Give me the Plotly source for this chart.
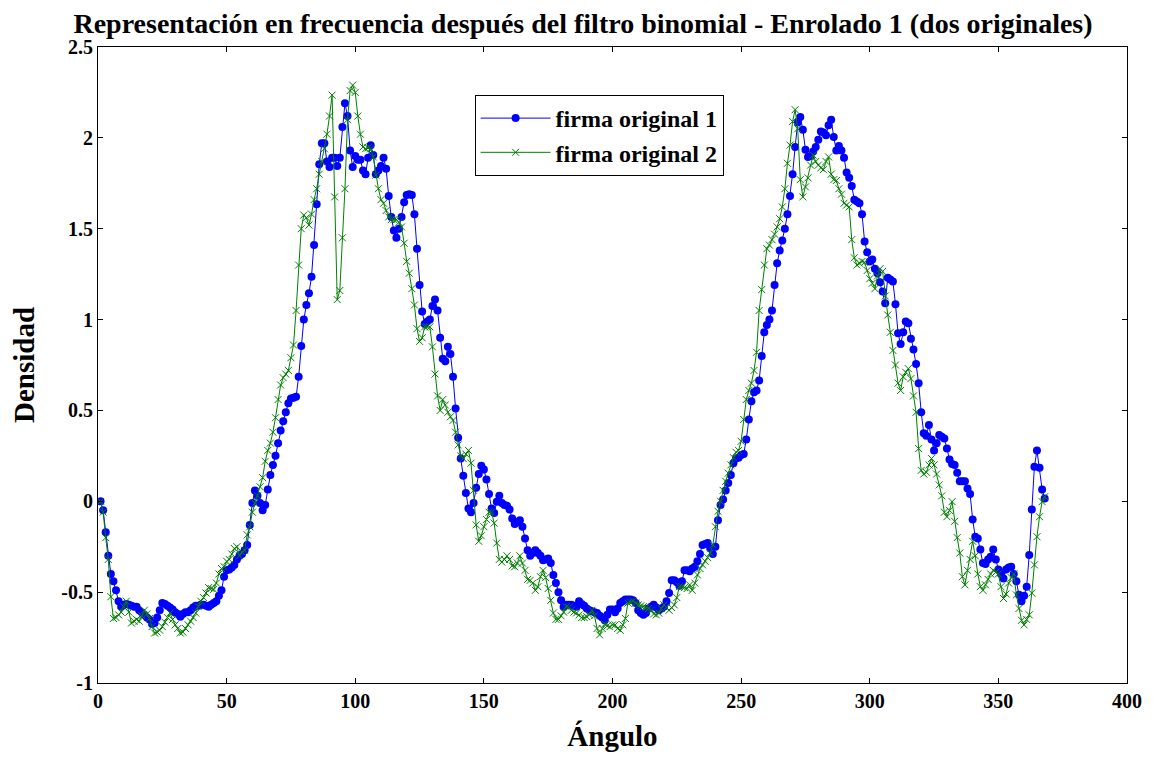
import plotly.graph_objects as go

angles = list(range(1, 369))

firma1 = [
    0.0, -0.05, -0.17, -0.30, -0.40, -0.44, -0.49, -0.55, -0.58, -0.57,
    -0.565, -0.57, -0.575, -0.58, -0.58, -0.60, -0.61, -0.625, -0.64, -0.65,
    -0.675, -0.67, -0.64, -0.60, -0.56, -0.565, -0.575, -0.585, -0.595, -0.61,
    -0.62, -0.635, -0.62, -0.61, -0.61, -0.60, -0.585, -0.575, -0.575, -0.57,
    -0.57, -0.575, -0.58, -0.57, -0.56, -0.55, -0.52, -0.49, -0.415, -0.38,
    -0.375, -0.365, -0.35, -0.32, -0.30, -0.29, -0.27, -0.24, -0.13, -0.01,
    0.06, 0.03, -0.01, -0.05, -0.02, 0.065, 0.145, 0.20, 0.25, 0.32,
    0.39, 0.44, 0.49, 0.54, 0.565, 0.57, 0.575, 0.685, 0.855, 1.0,
    1.08, 1.145, 1.235, 1.41, 1.635, 1.855, 1.97, 1.97, 1.87, 1.84,
    1.89, 1.89, 1.845, 1.89, 2.06, 2.19, 2.12, 1.93, 1.84, 1.90,
    1.88, 1.88, 1.82, 1.80, 1.89, 1.96, 1.905, 1.80, 1.82, 1.845,
    1.89, 1.83, 1.68, 1.565, 1.49, 1.45, 1.50, 1.565, 1.645, 1.685,
    1.69, 1.685, 1.58, 1.39, 1.19, 1.045, 0.975, 0.99, 1.0, 1.075,
    1.11, 1.05, 0.90, 0.785, 0.77, 0.85, 0.81, 0.685, 0.51, 0.35,
    0.235, 0.14, 0.045, -0.04, -0.06, -0.01, 0.075, 0.15, 0.195, 0.175,
    0.12, 0.04, -0.04, -0.065, -0.002, 0.03, -0.01, -0.02, -0.025, -0.045,
    -0.095, -0.125, -0.115, -0.105, -0.14, -0.205, -0.27, -0.30, -0.285, -0.27,
    -0.285, -0.30, -0.325, -0.32, -0.315, -0.34, -0.405, -0.45, -0.50, -0.545,
    -0.58, -0.57, -0.57, -0.57, -0.575, -0.58, -0.55, -0.565, -0.575, -0.59,
    -0.60, -0.605, -0.61, -0.615, -0.63, -0.64, -0.655, -0.625, -0.595, -0.595,
    -0.61, -0.59, -0.56, -0.55, -0.54, -0.54, -0.54, -0.545, -0.56, -0.60,
    -0.615, -0.625, -0.615, -0.59, -0.58, -0.57, -0.585, -0.60, -0.59, -0.58,
    -0.55, -0.505, -0.435, -0.435, -0.445, -0.465, -0.44, -0.38, -0.38, -0.385,
    -0.37, -0.36, -0.33, -0.29, -0.24, -0.235, -0.23, -0.26, -0.29, -0.25,
    -0.105, -0.02, 0.01, 0.06, 0.10, 0.145, 0.21, 0.235, 0.24, 0.255,
    0.26, 0.34, 0.45, 0.55, 0.60, 0.61, 0.665, 0.80, 0.93, 0.97,
    1.0, 1.05, 1.19, 1.31, 1.38, 1.435, 1.50, 1.58, 1.68, 1.80,
    1.95, 2.085, 2.115, 2.045, 1.935, 1.895, 1.90, 1.925, 1.95, 1.99,
    2.035, 2.03, 2.015, 2.07, 2.10, 2.005, 1.93, 1.955, 1.93, 1.89,
    1.81, 1.78, 1.735, 1.66, 1.65, 1.64, 1.58, 1.43, 1.37, 1.32,
    1.33, 1.28, 1.255, 1.205, 1.155, 1.09, 1.23, 1.22, 1.21, 1.085,
    0.925, 0.865, 0.93, 0.99, 0.98, 0.895, 0.835, 0.755, 0.65, 0.49,
    0.375, 0.36, 0.42, 0.34, 0.28, 0.32, 0.365, 0.355, 0.345, 0.29,
    0.23, 0.205, 0.20, 0.157, 0.11, 0.11, 0.11, 0.07, 0.04, -0.10,
    -0.195, -0.205, -0.265, -0.34, -0.345, -0.32, -0.305, -0.265, -0.32, -0.375,
    -0.40, -0.425, -0.375, -0.365, -0.36, -0.40, -0.44, -0.515, -0.55, -0.52,
    -0.47, -0.295, -0.045, 0.19, 0.28, 0.185, 0.065, 0.015,
]

firma2 = [
    0.0, -0.06, -0.20, -0.32, -0.525, -0.645, -0.64, -0.625, -0.61, -0.58,
    -0.55, -0.61, -0.67, -0.66, -0.65, -0.66, -0.63, -0.60, -0.62, -0.645,
    -0.69, -0.725, -0.72, -0.71, -0.69, -0.665, -0.64, -0.615, -0.65, -0.68,
    -0.70, -0.725, -0.72, -0.70, -0.68, -0.66, -0.64, -0.615, -0.58, -0.55,
    -0.53, -0.505, -0.475, -0.48, -0.485, -0.45, -0.40, -0.37, -0.36, -0.33,
    -0.32, -0.29, -0.26, -0.25, -0.30, -0.28, -0.27, -0.185, -0.14, -0.06,
    -0.01, 0.03, 0.08, 0.13, 0.22, 0.28, 0.32, 0.38, 0.46, 0.56,
    0.64, 0.68, 0.70, 0.72, 0.79, 0.86, 1.05, 1.30, 1.50, 1.575,
    1.56, 1.52, 1.58, 1.66, 1.72, 1.80, 1.87, 1.94, 2.02, 2.12,
    2.235, 1.675, 1.11, 1.16, 1.45, 1.72, 2.10, 2.26, 2.29, 2.25,
    2.12, 2.02, 1.95, 1.94, 1.945, 1.94, 1.895, 1.795, 1.72, 1.66,
    1.64, 1.60, 1.565, 1.55, 1.55, 1.55, 1.535, 1.51, 1.42, 1.32,
    1.255, 1.17, 1.08, 0.95, 0.88, 0.90, 0.96, 0.96, 0.96, 0.85,
    0.70, 0.58, 0.50, 0.56, 0.53, 0.49, 0.465, 0.445, 0.38, 0.31,
    0.25, 0.235, 0.26, 0.28, 0.21, 0.06, -0.13, -0.22, -0.19, -0.14,
    -0.10, -0.06, -0.06, -0.12, -0.23, -0.32, -0.335, -0.32, -0.30, -0.32,
    -0.355, -0.36, -0.34, -0.30, -0.34, -0.38, -0.43, -0.435, -0.45, -0.49,
    -0.47, -0.415, -0.38, -0.42, -0.48, -0.545, -0.615, -0.65, -0.65, -0.63,
    -0.61, -0.58, -0.585, -0.60, -0.61, -0.615, -0.625, -0.64, -0.64, -0.635,
    -0.625, -0.60, -0.63, -0.70, -0.735, -0.70, -0.675, -0.685, -0.69, -0.68,
    -0.68, -0.70, -0.71, -0.68, -0.645, -0.56, -0.555, -0.55, -0.56, -0.57,
    -0.575, -0.58, -0.585, -0.59, -0.60, -0.62, -0.625, -0.615, -0.59, -0.57,
    -0.585, -0.60, -0.585, -0.57, -0.53, -0.47, -0.47, -0.475, -0.48, -0.46,
    -0.49, -0.45, -0.405, -0.37, -0.35, -0.33, -0.31, -0.285, -0.24, -0.14,
    -0.055, 0.0, 0.06, 0.11, 0.155, 0.20, 0.24, 0.27, 0.28, 0.33,
    0.45, 0.56, 0.61, 0.65, 0.72, 0.82, 1.05, 1.165, 1.30, 1.39,
    1.41, 1.44, 1.47, 1.51, 1.555, 1.62, 1.72, 1.86, 1.96, 2.09,
    2.155, 2.05, 1.77, 1.675, 1.73, 1.78, 1.85, 1.905, 1.87, 1.85,
    1.835, 1.825, 1.87, 1.895, 1.80, 1.77, 1.765, 1.72, 1.69, 1.64,
    1.63, 1.62, 1.44, 1.34, 1.30, 1.31, 1.32, 1.315, 1.27, 1.225,
    1.20, 1.17, 1.24, 1.28, 1.265, 1.13, 1.025, 0.93, 0.83, 0.75,
    0.65, 0.61, 0.685, 0.71, 0.73, 0.675, 0.58, 0.49, 0.29, 0.17,
    0.15, 0.16, 0.20, 0.235, 0.20, 0.15, 0.09, 0.03, -0.06, -0.085,
    -0.05, -0.002, -0.11, -0.20, -0.285, -0.415, -0.46, -0.38, -0.32, -0.22,
    -0.30, -0.40, -0.47, -0.49, -0.46, -0.43, -0.40, -0.38, -0.39, -0.40,
    -0.47, -0.535, -0.51, -0.45, -0.42, -0.40, -0.515, -0.59, -0.655, -0.68,
    -0.65, -0.625, -0.505, -0.35, -0.195, -0.085, -0.002, 0.025,
]

x_ticks = [0, 50, 100, 150, 200, 250, 300, 350, 400]
y_ticks = [-1, -0.5, 0, 0.5, 1, 1.5, 2, 2.5]
y_tick_labels = ["-1", "-0.5", "0", "0.5", "1", "1.5", "2", "2.5"]

FONT = "Liberation Serif"
tickfont = dict(family=FONT, size=20, color="black", weight="bold")

fig = go.Figure()
fig.add_trace(go.Scatter(
    x=angles, y=firma1, mode="lines+markers", name="firma original 1",
    line=dict(color="#0000FF", width=1),
    marker=dict(symbol="circle", size=8, color="#0000FF"),
))
fig.add_trace(go.Scatter(
    x=angles, y=firma2, mode="lines+markers", name="firma original 2",
    line=dict(color="#008000", width=1),
    marker=dict(symbol="x-thin", size=7, color="#008000",
                line=dict(color="#008000", width=1)),
))

axis_common = dict(
    showline=True, linecolor="black", linewidth=1, mirror="ticks",
    ticks="inside", ticklen=5, tickcolor="black", showgrid=False, zeroline=False,
    tickfont=tickfont,
)

fig.update_layout(
    width=1150, height=749,
    paper_bgcolor="white", plot_bgcolor="white",
    margin=dict(l=90, r=31, t=39, b=74),
    title=dict(
        text="<b>Representación en frecuencia después del filtro binomial - Enrolado 1 (dos originales)</b>",
        font=dict(family=FONT, size=28, color="black"),
        x=0.5, xanchor="center", y=0.98, yanchor="middle",
    ),
    xaxis=dict(
        range=[0, 400], tickvals=x_ticks, ticktext=[str(v) for v in x_ticks],
        title=dict(text="<b>Ángulo</b>", font=dict(family=FONT, size=29, color="black"), standoff=14),
        **axis_common,
    ),
    yaxis=dict(
        range=[-1, 2.5], tickvals=y_ticks, ticktext=y_tick_labels,
        title=dict(text="<b>Densidad</b>", font=dict(family=FONT, size=29, color="black"), standoff=20),
        **axis_common,
    ),
    legend=dict(
        x=0.366, y=0.9245, xanchor="left", yanchor="top",
        bgcolor="white", bordercolor="black", borderwidth=1,
        font=dict(family=FONT, size=24, color="black", weight="bold"),
        itemwidth=70, tracegroupgap=0,
    ),
    showlegend=True,
)

fig.write_html("out.html")
